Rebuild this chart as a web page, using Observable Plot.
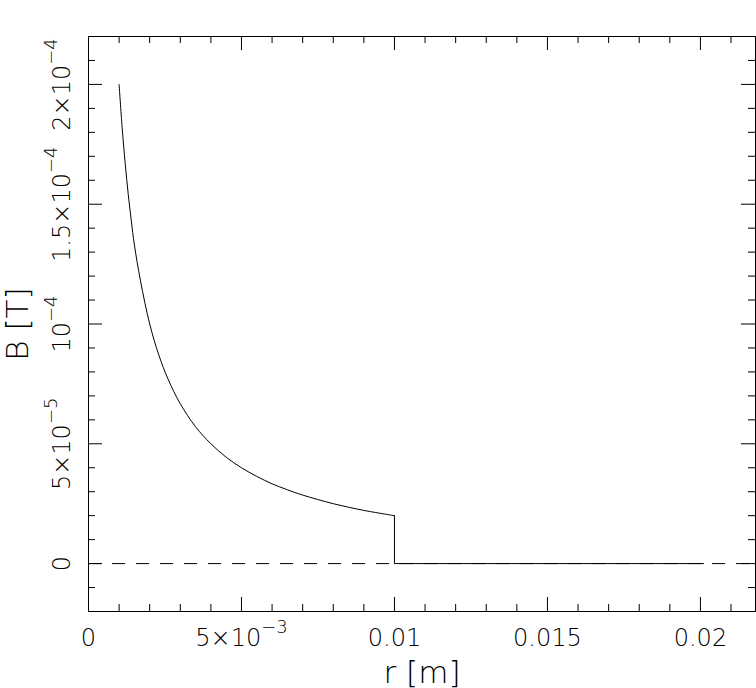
<!DOCTYPE html>
<html><head><meta charset="utf-8">
<script src="https://cdn.jsdelivr.net/npm/d3@7"></script>
<script src="https://cdn.jsdelivr.net/npm/@observablehq/plot@0.6"></script>
<style>body{margin:0;background:#fff} svg{display:block}</style>
</head><body><div id="chart"></div>
<script>
// Field outside the conductor
const rCurve = [0.0010, 0.0011, 0.0012, 0.0013, 0.0014, 0.0015, 0.0017, 0.0020, 0.0023, 0.0026, 0.0030, 0.0035, 0.0040, 0.0045, 0.0050, 0.0055, 0.0060, 0.0065, 0.0070, 0.0080, 0.0090, 0.0100];
const bCurve = [2.0e-4, 1.82e-4, 1.67e-4, 1.54e-4, 1.43e-4, 1.33e-4, 1.18e-4, 1.0e-4, 8.7e-5, 7.7e-5, 6.67e-5, 5.71e-5, 5.0e-5, 4.44e-5, 4.0e-5, 3.64e-5, 3.33e-5, 3.08e-5, 2.86e-5, 2.5e-5, 2.22e-5, 2.0e-5];
// Drop to zero and flat part
const rStep = [0.0100, 0.0100, 0.0201];
const bStep = [2.0e-5, 0, 0];

const xMajor = [0, 0.005, 0.01, 0.015, 0.02];
const xTickLabels = ["0", "5×10⁻³", "0.01", "0.015", "0.02"];
const xMinor = [0.001,0.002,0.003,0.004,0.006,0.007,0.008,0.009,0.011,0.012,0.013,0.014,0.016,0.017,0.018,0.019,0.021];
const yMajor = [0, 5e-5, 1e-4, 1.5e-4, 2e-4];
const yTickLabels = ["0", "5×10⁻⁵", "10⁻⁴", "1.5×10⁻⁴", "2×10⁻⁴"];
const yMinor = [-1e-5,1e-5,2e-5,3e-5,4e-5,6e-5,7e-5,8e-5,9e-5,1.1e-4,1.2e-4,1.3e-4,1.4e-4,1.6e-4,1.7e-4,1.8e-4,1.9e-4,2.1e-4];
const xLabel = "r [m]";
const yLabel = "B [T]";

const curve = rCurve.map((r, i) => ({r, b: bCurve[i]}));
const step = rStep.map((r, i) => ({r, b: bStep[i]}));
const xT = xMajor.map((v, i) => ({v, t: xTickLabels[i]}));
const yT = yMajor.map((v, i) => ({v, t: yTickLabels[i]}));

const W = 756, H = 688, mL = 88, mR = 1, mT = 36, mB = 77;
const pw = W - mL - mR, ph = H - mT - mB;
const minorLen = 7, majorLen = 14;
const font = "'DejaVu Sans', sans-serif";

const chart = Plot.plot({
  width: W, height: H,
  marginLeft: mL, marginRight: mR, marginTop: mT, marginBottom: mB,
  x: {domain: [0, 0.0218], axis: null},
  y: {domain: [-2e-5, 2.2e-4], axis: null},
  style: {fontFamily: font, background: "white", color: "black"},
  marks: [
    Plot.ruleY([0], {stroke: "black", strokeWidth: 1, strokeDasharray: "13,11"}),
    Plot.line(curve, {x: "r", y: "b", stroke: "black", strokeWidth: 1, curve: "catmull-rom"}),
    Plot.line(step, {x: "r", y: "b", stroke: "black", strokeWidth: 1}),
    Plot.tickX(xMinor, {x: d => d, insetTop: ph - minorLen, stroke: "black"}),
    Plot.tickX(xMinor, {x: d => d, insetBottom: ph - minorLen, stroke: "black"}),
    Plot.tickX(xMajor, {x: d => d, insetTop: ph - majorLen, stroke: "black"}),
    Plot.tickX(xMajor, {x: d => d, insetBottom: ph - majorLen, stroke: "black"}),
    Plot.tickY(yMinor, {y: d => d, insetRight: pw - minorLen, stroke: "black"}),
    Plot.tickY(yMinor, {y: d => d, insetLeft: pw - minorLen, stroke: "black"}),
    Plot.tickY(yMajor, {y: d => d, insetRight: pw - majorLen, stroke: "black"}),
    Plot.tickY(yMajor, {y: d => d, insetLeft: pw - majorLen, stroke: "black"}),
    Plot.frame({stroke: "black", strokeWidth: 1}),
    Plot.text(xT, {x: "v", text: "t", frameAnchor: "bottom", dy: 34, lineAnchor: "bottom", fontSize: 24, fontWeight: 200, fill: "black"}),
    Plot.text(yT, {y: "v", text: "t", frameAnchor: "left", dx: -19, rotate: -90, textAnchor: "middle", lineAnchor: "bottom", fontSize: 24, fontWeight: 200, fill: "black"}),
    Plot.text([xLabel], {text: d => d, frameAnchor: "bottom", dy: 71, lineAnchor: "bottom", fontSize: 31, fontWeight: 200, fill: "black"}),
    Plot.text([yLabel], {text: d => d, frameAnchor: "left", dx: -61, rotate: -90, textAnchor: "middle", lineAnchor: "bottom", fontSize: 31, fontWeight: 200, fill: "black"})
  ]
});

// Turn Unicode superscript exponents into raised tspans (text stays text)
const supMap = {"⁻": "−", "⁰": "0", "¹": "1", "²": "2", "³": "3", "⁴": "4", "⁵": "5", "⁶": "6", "⁷": "7", "⁸": "8", "⁹": "9"};
d3.select(chart).selectAll("text").each(function () {
  const el = d3.select(this);
  if (el.selectAll("tspan").size() > 0) return;
  const s = this.textContent;
  const m = s.match(/^([^⁻⁰¹²³⁴⁵⁶⁷⁸⁹]*)([⁻⁰¹²³⁴⁵⁶⁷⁸⁹]+)$/);
  if (!m) return;
  el.text(null);
  el.append("tspan").text(m[1]);
  el.append("tspan").attr("dy", -13).attr("font-size", 18)
    .text(Array.from(m[2]).map(c => supMap[c]).join(""));
});
document.getElementById("chart").appendChild(chart);
</script>
</body></html>
